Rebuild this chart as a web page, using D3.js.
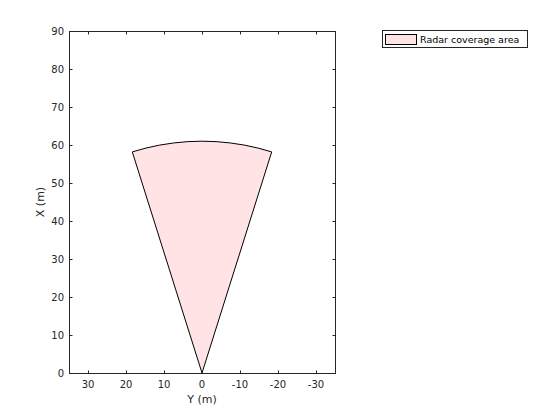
<!DOCTYPE html>
<html>
<head>
<meta charset="utf-8">
<script src="https://cdn.jsdelivr.net/npm/d3@7"></script>
<style>
body{margin:0;background:#fff;}
text{font-family:"DejaVu Sans",sans-serif;}
</style>
</head>
<body>
<svg id="c" width="560" height="420"></svg>
<script>
// Coverage polygon vertices (Y lateral, X forward), metres
const coverageY = [0, 18.34, 14.76, 11.12, 7.43, 3.72, 0, -3.72, -7.43, -11.12, -14.76, -18.34, 0];
const coverageX = [0, 58.18, 59.19, 59.98, 60.54, 60.89, 61, 60.89, 60.54, 59.98, 59.19, 58.18, 0];
const xTicks = [30, 20, 10, 0, -10, -20, -30];
const yTicks = [0, 10, 20, 30, 40, 50, 60, 70, 80, 90];
const seriesName = "Radar coverage area";

const svg = d3.select("#c");
const L = 69, R = 335, T = 31, B = 373;
const axisColor = "#262626";

const x = d3.scaleLinear().domain([35, -35]).range([L, R]);
const y = d3.scaleLinear().domain([0, 90]).range([B, T]);

// coverage patch
const pts = coverageY.map((v, i) => [x(v), y(coverageX[i])]);
svg.append("path")
  .attr("d", d3.line()(pts) + "Z")
  .attr("fill", "#ffe3e5")
  .attr("stroke", "#000")
  .attr("stroke-width", 1)
  .attr("stroke-linejoin", "round");

// axes box
svg.append("rect").attr("x", L + 0.5).attr("y", T + 0.5)
  .attr("width", R - L).attr("height", B - T)
  .attr("fill", "none").attr("stroke", axisColor).attr("stroke-width", 1);

const tl = 3;
// x ticks
xTicks.forEach(t => {
  const px = Math.round(x(t)) + 0.5;
  svg.append("line").attr("x1", px).attr("x2", px).attr("y1", B + 0.5).attr("y2", B + 0.5 - tl).attr("stroke", axisColor);
  svg.append("line").attr("x1", px).attr("x2", px).attr("y1", T + 0.5).attr("y2", T + 0.5 + tl).attr("stroke", axisColor);
  svg.append("text").attr("x", x(t)).attr("y", B + 15).attr("text-anchor", "middle")
    .attr("font-size", 10).attr("fill", axisColor).text(t);
});
// y ticks
yTicks.forEach(t => {
  const py = Math.round(y(t)) + 0.5;
  svg.append("line").attr("x1", L + 0.5).attr("x2", L + 0.5 + tl).attr("y1", py).attr("y2", py).attr("stroke", axisColor);
  svg.append("line").attr("x1", R + 0.5).attr("x2", R + 0.5 - tl).attr("y1", py).attr("y2", py).attr("stroke", axisColor);
  svg.append("text").attr("x", L - 5).attr("y", y(t) + 3.5).attr("text-anchor", "end")
    .attr("font-size", 10).attr("fill", axisColor).text(t);
});

// axis labels
svg.append("text").attr("x", (L + R) / 2).attr("y", 403).attr("text-anchor", "middle")
  .attr("font-size", 11).attr("fill", axisColor).text("Y (m)");
svg.append("text").attr("transform", `translate(44,${(T + B) / 2}) rotate(-90)`)
  .attr("text-anchor", "middle").attr("font-size", 11).attr("fill", axisColor).text("X (m)");

// legend
const lg = svg.append("g");
lg.append("rect").attr("x", 382.5).attr("y", 30.5).attr("width", 145).attr("height", 17)
  .attr("fill", "#fff").attr("stroke", axisColor);
lg.append("rect").attr("x", 385.5).attr("y", 34.5).attr("width", 31).attr("height", 10)
  .attr("fill", "#ffe3e5").attr("stroke", "#000");
lg.append("text").attr("x", 420).attr("y", 43).attr("font-size", 9.5).attr("fill", "#000").text(seriesName);
</script>
</body>
</html>
